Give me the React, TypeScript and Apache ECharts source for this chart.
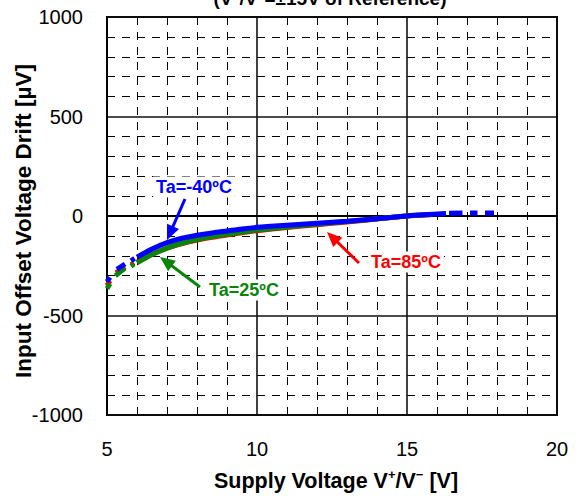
import React, { useEffect, useRef } from "react";
import * as echarts from "echarts";

// Supply voltage (V) and drift (µV); null marks a gap in the measured trace
const voltM40 = [5.0, 5.1, 5.1, 5.33, 5.6, 5.6, 5.8, 5.92, 5.92, 6.0, 6.5, 7, 7.5, 8, 8.5, 9, 9.5, 10, 11, 12, 13, 14, 15, 16, 16.3, 16.3, 16.4, 16.85, 16.85, 17.1, 17.35, 17.35, 17.6, 17.9];
const driftM40 = [-330, -308, null, -268, -241, null, -225, -213, null, -207, -166, -134, -112, -97, -85, -75, -65, -57, -46, -36, -26, -14, 0, 10, 13, null, 14, 15, null, 15, 15, null, 15, 15];

const volt25 = [5.0, 5.1, 5.1, 5.28, 5.6, 5.6, 5.8, 5.9, 5.9, 6.0, 6.5, 7, 7.5, 8, 8.5, 9, 9.5, 10, 11, 12, 13, 14, 15, 15.8];
const drift25 = [-365, -340, null, -300, -262, null, -252, -241, null, -236, -194, -161, -137, -118, -104, -92, -81, -71, -55, -41, -28, -14, 0, 7];

const volt85 = [5.0, 5.1, 5.1, 5.3, 5.6, 5.6, 5.8, 5.9, 5.9, 6.0, 6.5, 7, 7.5, 8, 8.5, 9, 9.5, 10, 11, 12, 13, 14, 15, 15.8];
const drift85 = [-350, -325, null, -285, -255, null, -245, -235, null, -232, -192, -162, -139, -121, -107, -95, -84, -74, -58, -44, -30, -15, 0, 6];

const xMin = 5, xMax = 20, xStep = 5;
const yMin = -1000, yMax = 1000, yStep = 500;

const FONT = "'Liberation Sans', Arial, sans-serif";
const BLUE = "#0000ff";
const GREEN = "#0a840a";
const RED = "#ff0000";

function toData(v: number[], d: (number | null)[]) {
  return v.map((x, i) => [x, d[i] === null ? "-" : d[i]]);
}

function arrow(x1: number, y1: number, x2: number, y2: number, color: string) {
  const L = 15, W = 13;
  const dx = x2 - x1, dy = y2 - y1;
  const len = Math.sqrt(dx * dx + dy * dy);
  const ux = dx / len, uy = dy / len;
  const bx = x2 - ux * L, by = y2 - uy * L;
  const px = -uy, py = ux;
  return [
    { type: "line", shape: { x1, y1, x2: bx + ux * 2, y2: by + uy * 2 }, style: { stroke: color, lineWidth: 3 }, z: 100 },
    {
      type: "polygon",
      shape: { points: [[x2, y2], [bx + px * W / 2, by + py * W / 2], [bx - px * W / 2, by - py * W / 2]] },
      style: { fill: color },
      z: 100,
    },
  ];
}

function label(text: string, x: number, y: number, color: string) {
  return {
    type: "text",
    x,
    y,
    z: 99,
    style: {
      text,
      align: "center",
      verticalAlign: "middle",
      fill: color,
      fontSize: 18,
      fontWeight: "bold",
      fontFamily: FONT,
      backgroundColor: "#fff",
      padding: [2, 3, 1, 3],
    },
  };
}

export default function App() {
  const ref = useRef<HTMLDivElement>(null);
  useEffect(() => {
    if (!ref.current) return;
    const chart = echarts.init(ref.current, null, { renderer: "svg" });
    const lineSeries = (name: string, data: any[], color: string) => ({
      name,
      type: "line",
      data,
      symbol: "none",
      smooth: 0.3,
      connectNulls: false,
      lineStyle: { color, width: 5 },
      itemStyle: { color },
      z: 3,
    });
    const axisText = { fontSize: 20, color: "#000", fontFamily: FONT, formatter: (v: number) => String(v) };
    chart.setOption({
      animation: false,
      backgroundColor: "#fff",
      grid: { left: 107, right: 26, top: 17, bottom: 86, show: true, borderColor: "#000", borderWidth: 2, backgroundColor: "transparent" },
      xAxis: {
        type: "value",
        min: xMin,
        max: xMax,
        interval: xStep,
        axisLine: { show: true, lineStyle: { color: "#000", width: 2 } },
        axisTick: { show: false },
        minorTick: { show: false, splitNumber: 5 },
        axisLabel: { ...axisText, margin: 24 },
        splitLine: { show: true, lineStyle: { color: "#111", width: 1.6 } },
        minorSplitLine: { show: true, lineStyle: { color: "#000", width: 1, type: [8, 7] } },
      },
      yAxis: {
        type: "value",
        min: yMin,
        max: yMax,
        interval: yStep,
        axisLine: { show: true, lineStyle: { color: "#000", width: 2 } },
        axisTick: { show: false },
        minorTick: { show: false, splitNumber: 5 },
        axisLabel: { ...axisText, margin: 24 },
        splitLine: { show: true, lineStyle: { color: "#111", width: 1.6 } },
        minorSplitLine: { show: true, lineStyle: { color: "#000", width: 1, type: [8, 7] } },
      },
      series: [
        lineSeries("Ta=85ºC", toData(volt85, drift85), RED),
        lineSeries("Ta=25ºC", toData(volt25, drift25), GREEN),
        lineSeries("Ta=-40ºC", toData(voltM40, driftM40), BLUE),
      ],
      graphic: [
        {
          type: "text",
          x: 330,
          y: -3,
          style: {
            text: "{n|(V}{s|+}{n|/V}{s|−}{n|=±15V of Reference)}",
            align: "center",
            verticalAlign: "middle",
            fill: "#000",
            rich: {
              n: { fontSize: 19, fontWeight: "bold", fontFamily: FONT, lineHeight: 22, verticalAlign: "bottom" },
              s: { fontSize: 12, fontWeight: "bold", fontFamily: FONT, lineHeight: 22, verticalAlign: "top" },
            },
          },
        },
        {
          type: "text",
          x: 336,
          y: 480,
          style: {
            text: "{n|Supply Voltage V}{s|+}{n|/V}{s|−}{n| [V]}",
            align: "center",
            verticalAlign: "middle",
            fill: "#000",
            rich: {
              n: { fontSize: 21.5, fontWeight: "bold", fontFamily: FONT, lineHeight: 24, verticalAlign: "bottom" },
              s: { fontSize: 13, fontWeight: "bold", fontFamily: FONT, lineHeight: 24, verticalAlign: "top" },
            },
          },
        },
        {
          type: "text",
          x: 23,
          y: 221,
          rotation: Math.PI / 2,
          style: {
            text: "Input Offset Voltage Drift [µV]",
            align: "center",
            verticalAlign: "middle",
            fill: "#000",
            fontSize: 22.5,
            fontWeight: "bold",
            fontFamily: FONT,
          },
        },
        label("Ta=-40ºC", 194, 187, BLUE),
        label("Ta=25ºC", 244, 290, GREEN),
        label("Ta=85ºC", 406, 262, RED),
        ...arrow(185, 199, 167, 240, BLUE),
        ...arrow(200, 287, 160, 257, GREEN),
        ...arrow(359, 263, 327, 232, RED),
      ],
    });
    return () => chart.dispose();
  }, []);
  return <div ref={ref} style={{ position: "fixed", left: 0, top: 0, width: 583, height: 501, background: "#fff" }} />;
}
